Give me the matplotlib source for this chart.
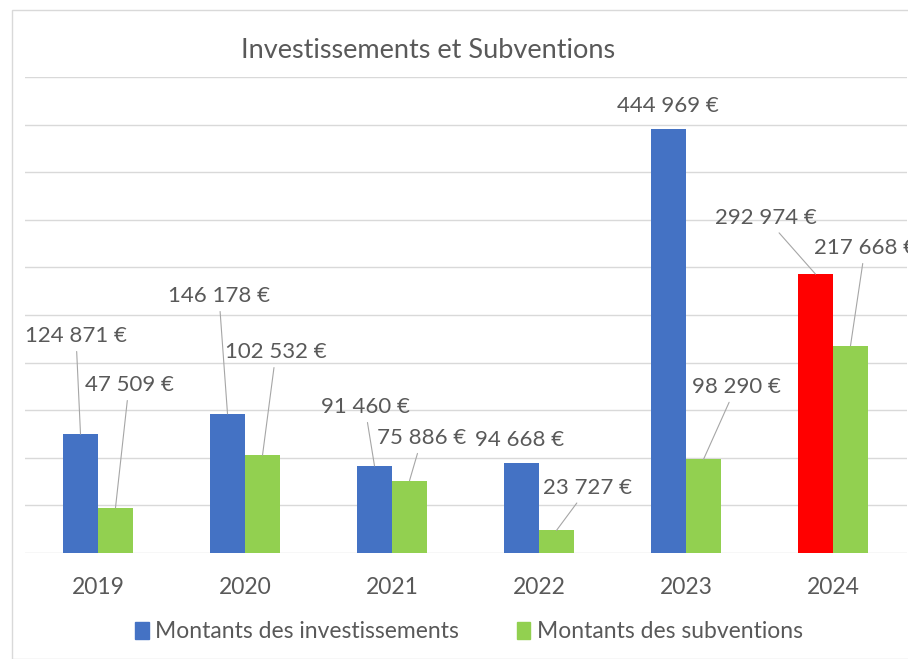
import matplotlib.pyplot as plt
from matplotlib.patches import Patch, Rectangle
import numpy as np

years = ["2019", "2020", "2021", "2022", "2023", "2024"]
investissements = [124871, 146178, 91460, 94668, 444969, 292974]
subventions = [47509, 102532, 75886, 23727, 98290, 217668]

# label placement (x in category units, y in data units)
pos_inv = [(-0.15, 228000), (0.823, 270000), (1.816, 153400), (2.871, 118700), (3.878, 469500), (4.544, 351900)]
pos_sub = [(0.211, 176500), (1.211, 211100), (2.204, 120800), (3.333, 68300), (4.340, 174400), (5.218, 320400)]
leader_inv = [True, True, True, False, False, True]
leader_sub = [True, True, True, True, True, True]

blue = "#4472C4"
green = "#92D050"
red = "#FF0000"
txt = "#595959"
grid = "#D9D9D9"
font = ["Lato", "DejaVu Sans"]

def fmt(v):
    return f"{v:,}".replace(",", " ") + " €"

fig = plt.figure(figsize=(9.08, 6.59), dpi=100)
fig.patches.append(Rectangle((12 / 908, 0), 1, 1 - 10 / 659, transform=fig.transFigure,
                             fill=False, edgecolor=grid, lw=1))
ax = fig.add_axes([24.5 / 908, 106 / 659, 882 / 908, 476 / 659])

x = np.arange(len(years))
w = 0.238
inv_colors = [blue] * 5 + [red]
ax.bar(x - w / 2, investissements, w, color=inv_colors, zorder=3)
ax.bar(x + w / 2, subventions, w, color=green, zorder=3)

ax.set_xlim(-0.5, 5.5)
ax.set_ylim(0, 500000)
ax.set_yticks(np.arange(0, 500001, 50000))
ax.yaxis.grid(True, color=grid, lw=1, zorder=0)
ax.tick_params(axis="y", left=False, labelleft=False)
ax.tick_params(axis="x", bottom=False, pad=14)
ax.set_xticks(x)
ax.set_xticklabels(years, color=txt, fontsize=16.5, family=font)
for s in ax.spines.values():
    s.set_visible(False)

def label(vals, offs, positions, leaders):
    for i, v in enumerate(vals):
        tx, ty = positions[i]
        ap = None
        if leaders[i]:
            ap = dict(arrowstyle="-", color="#A6A6A6", lw=0.8, shrinkA=2, shrinkB=0)
        ax.annotate(fmt(v), xy=(i + offs, v), xytext=(tx, ty), textcoords="data",
                    ha="center", va="center", fontsize=16, color=txt, family=font,
                    arrowprops=ap, annotation_clip=False, zorder=5)

label(investissements, -w / 2, pos_inv, leader_inv)
label(subventions, w / 2, pos_sub, leader_sub)

fig.text(428 / 908, 1 - 50 / 659, "Investissements et Subventions", ha="center", va="center",
         fontsize=19.5, color=txt, family=font)

handles = [Patch(color=blue, label="Montants des investissements"),
           Patch(color=green, label="Montants des subventions")]
fig.legend(handles=handles, loc="center", bbox_to_anchor=(469 / 908, 1 - 632 / 659), ncol=2,
           frameon=False, handlelength=0.6, handleheight=0.8, handletextpad=0.3,
           columnspacing=2.5, prop={"family": font, "size": 16.5}, labelcolor=txt)

fig.savefig("out.png", dpi=100)
